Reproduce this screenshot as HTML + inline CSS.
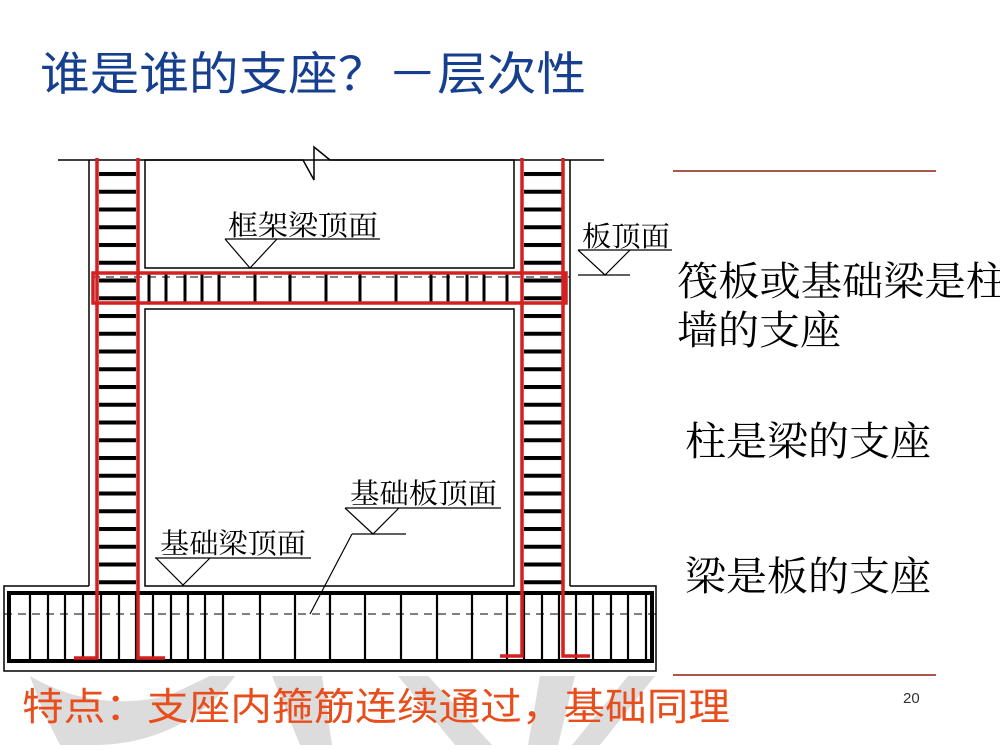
<!DOCTYPE html>
<html><head><meta charset="utf-8"><style>
html,body{margin:0;padding:0;background:#fff;}
svg{display:block;}
</style></head><body>
<svg width="1000" height="750" viewBox="0 0 1000 750" xmlns="http://www.w3.org/2000/svg">
<defs>
<pattern id="stir" x="0" y="172" width="10" height="17.75" patternUnits="userSpaceOnUse">
<rect x="0" y="0" width="10" height="4" fill="#000"/>
</pattern>
</defs>
<!-- watermark -->
<g fill="#dcdcdc">
<path d="M30,676 C70,700 120,708 170,695 L210,676 L235,676 C205,720 150,745 95,745 L60,745 C48,722 38,700 30,676Z"/>
<path d="M272,676 L322,676 L332,745 L300,745Z"/>
<path d="M398,676 L428,676 L492,745 L455,745Z"/>
<path d="M540,676 L575,676 L558,745 L528,745Z"/>
<path d="M628,676 L655,676 L600,745 L572,745Z"/>
</g>
<!-- title -->
<text x="40" y="90" font-family="Liberation Sans, Noto Sans CJK SC, sans-serif" font-size="46" fill="#173f8f" textLength="546" lengthAdjust="spacingAndGlyphs">谁是谁的支座？－层次性</text>
<!-- right lines -->
<line x1="673" y1="171" x2="936" y2="171" stroke="#a9574d" stroke-width="2"/>
<line x1="673" y1="675" x2="936" y2="675" stroke="#a9574d" stroke-width="2"/>
<g font-family="Liberation Serif, Noto Serif CJK SC, serif" font-size="40" fill="#000">
<text x="677" y="295" textLength="330" lengthAdjust="spacingAndGlyphs">筏板或基础梁是柱</text>
<text x="677" y="344" textLength="164" lengthAdjust="spacingAndGlyphs">墙的支座</text>
<text x="685" y="455" textLength="246" lengthAdjust="spacingAndGlyphs">柱是梁的支座</text>
<text x="685" y="590" textLength="246" lengthAdjust="spacingAndGlyphs">梁是板的支座</text>
</g>
<text x="903" y="703" font-family="Liberation Sans, sans-serif" font-size="15" fill="#333">20</text>
<text x="22" y="720" font-family="Liberation Sans, Noto Sans CJK SC, sans-serif" font-size="38" fill="#e84d1c" textLength="708" lengthAdjust="spacingAndGlyphs">特点：支座内箍筋连续通过，基础同理</text>

<!-- structure black lines -->
<g stroke="#000" fill="none" stroke-width="1.5">
<path d="M58,160 L303,160 L314,180 L314,147 L330,160 L604,160"/>
<line x1="89" y1="160" x2="89" y2="586"/>
<line x1="570" y1="160" x2="570" y2="586"/>
<rect x="145" y="160" width="369" height="108"/>
<rect x="145" y="309" width="369" height="277"/>
<path d="M89,586 L4,586 L4,671 L656,671 L656,586 L570,586"/>
</g>
<!-- column stirrups -->
<rect x="99" y="172" width="37" height="414" fill="url(#stir)"/>
<rect x="524" y="172" width="38" height="414" fill="url(#stir)"/>
<!-- beam stirrups -->
<g stroke="#000" stroke-width="3">
<line x1="149" y1="274" x2="149" y2="302"/><line x1="166" y1="274" x2="166" y2="302"/>
<line x1="185" y1="274" x2="185" y2="302"/><line x1="202" y1="274" x2="202" y2="302"/>
<line x1="219" y1="274" x2="219" y2="302"/><line x1="255" y1="274" x2="255" y2="302"/>
<line x1="290" y1="274" x2="290" y2="302"/><line x1="326" y1="274" x2="326" y2="302"/>
<line x1="360" y1="274" x2="360" y2="302"/><line x1="396" y1="274" x2="396" y2="302"/>
<line x1="431" y1="274" x2="431" y2="302"/><line x1="448" y1="274" x2="448" y2="302"/>
<line x1="467" y1="274" x2="467" y2="302"/><line x1="484" y1="274" x2="484" y2="302"/>
<line x1="507" y1="274" x2="507" y2="302"/>
</g>
<line x1="92" y1="277" x2="570" y2="277" stroke="#000" stroke-width="1" stroke-dasharray="8,6"/>
<!-- foundation -->
<rect x="9" y="593" width="643" height="68" fill="none" stroke="#000" stroke-width="4"/>
<g stroke="#000" stroke-width="2.2">
<line x1="30" y1="593" x2="30" y2="661"/><line x1="48" y1="593" x2="48" y2="661"/>
<line x1="65" y1="593" x2="65" y2="661"/><line x1="83" y1="593" x2="83" y2="661"/>
<line x1="101" y1="593" x2="101" y2="661"/><line x1="119" y1="593" x2="119" y2="661"/>
<line x1="136" y1="593" x2="136" y2="661"/><line x1="153" y1="593" x2="153" y2="661"/>
<line x1="171" y1="593" x2="171" y2="661"/><line x1="188" y1="593" x2="188" y2="661"/>
<line x1="205" y1="593" x2="205" y2="661"/><line x1="223" y1="593" x2="223" y2="661"/>
<line x1="260" y1="593" x2="260" y2="661"/><line x1="295" y1="593" x2="295" y2="661"/>
<line x1="330" y1="593" x2="330" y2="661"/><line x1="365" y1="593" x2="365" y2="661"/>
<line x1="401" y1="593" x2="401" y2="661"/><line x1="437" y1="593" x2="437" y2="661"/>
<line x1="472" y1="593" x2="472" y2="661"/><line x1="507" y1="593" x2="507" y2="661"/>
<line x1="524" y1="593" x2="524" y2="661"/><line x1="542" y1="593" x2="542" y2="661"/>
<line x1="559" y1="593" x2="559" y2="661"/><line x1="576" y1="593" x2="576" y2="661"/>
<line x1="593" y1="593" x2="593" y2="661"/><line x1="611" y1="593" x2="611" y2="661"/>
<line x1="628" y1="593" x2="628" y2="661"/><line x1="646" y1="593" x2="646" y2="661"/>
</g>
<line x1="4" y1="614" x2="656" y2="614" stroke="#000" stroke-width="1" stroke-dasharray="8,6"/>
<!-- red rebars -->
<g stroke="#d42020" stroke-width="3.5" fill="none">
<path d="M97,158 L97,658 L74,658"/>
<path d="M138,158 L138,658 L165,658"/>
<path d="M522,158 L522,656 L500,656"/>
<path d="M563,158 L563,656 L590,656"/>
<rect x="93" y="273" width="473" height="30"/>
</g>
<!-- labels -->
<g stroke="#000" stroke-width="1.2" fill="none">
<line x1="225" y1="239" x2="380" y2="239"/>
<path d="M225,239 L250,268 L277,239"/>
<line x1="578" y1="250" x2="672" y2="250"/>
<path d="M578,250 L605,275 L630,250"/>
<line x1="578" y1="275" x2="630" y2="275"/>
<line x1="345" y1="508" x2="501" y2="508"/>
<path d="M345,508 L373,534 L399,508"/>
<line x1="352" y1="534" x2="406" y2="534"/>
<path d="M352,534 L310,614"/>
<line x1="155" y1="558" x2="311" y2="558"/>
<path d="M156,558 L183,585 L210,558"/>
</g>
<g font-family="Liberation Serif, Noto Serif CJK SC, serif" font-size="28" fill="#000">
<text x="228" y="235" textLength="150" lengthAdjust="spacingAndGlyphs">框架梁顶面</text>
<text x="582" y="246" textLength="88" lengthAdjust="spacingAndGlyphs">板顶面</text>
<text x="350" y="503" textLength="147" lengthAdjust="spacingAndGlyphs">基础板顶面</text>
<text x="160" y="553" textLength="146" lengthAdjust="spacingAndGlyphs">基础梁顶面</text>
</g>
</svg>
</body></html>
